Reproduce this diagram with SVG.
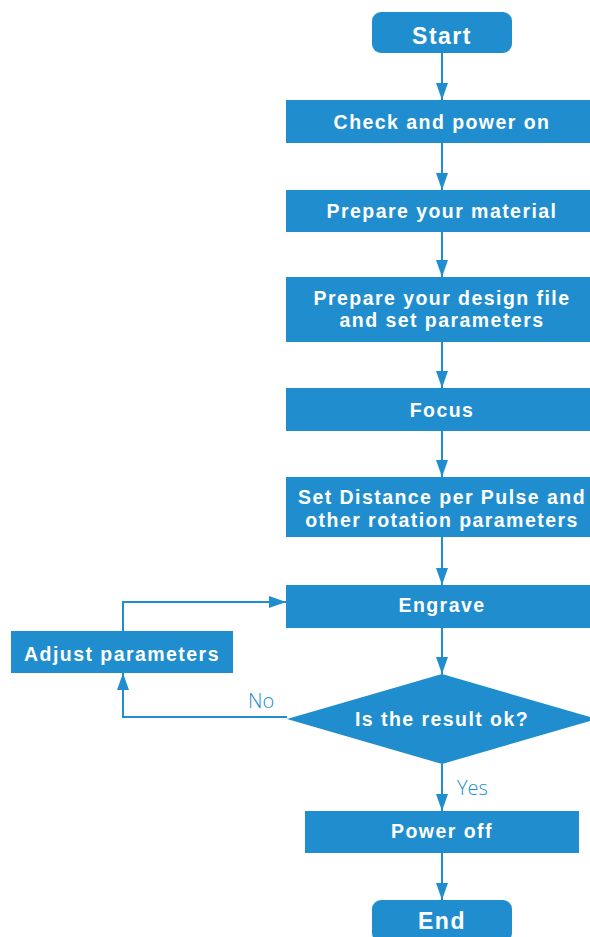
<svg xmlns="http://www.w3.org/2000/svg" width="590" height="937" viewBox="0 0 590 937">
<style>
.n{fill:#208ECE}
.t{fill:#fff;font-family:"Liberation Sans",Arial,sans-serif;font-weight:700;font-size:19.5px;letter-spacing:1.45px;text-anchor:middle}
.big{font-size:23px;letter-spacing:1.5px}
.c{stroke:#208ECE;stroke-width:2;fill:none}
.l{fill:#208ECE;font-family:"Open Sans","Liberation Sans",sans-serif;font-weight:300;font-size:20px}
</style>
<defs>
<marker id="a" markerWidth="17" markerHeight="12" refX="17" refY="6" orient="auto" markerUnits="userSpaceOnUse" viewBox="0 0 17 12">
<path d="M0,0 L17,6 L0,12 Z" fill="#208ECE"/>
</marker>
</defs>
<rect width="590" height="937" fill="#fff"/>
<g id="connectors">
<path class="c" d="M442,53 V100" marker-end="url(#a)"/>
<path class="c" d="M442,143 V190" marker-end="url(#a)"/>
<path class="c" d="M442,232 V277" marker-end="url(#a)"/>
<path class="c" d="M442,342 V388" marker-end="url(#a)"/>
<path class="c" d="M442,431 V477" marker-end="url(#a)"/>
<path class="c" d="M442,537 V585" marker-end="url(#a)"/>
<path class="c" d="M442,628 V674" marker-end="url(#a)"/>
<path class="c" d="M442,764 V811" marker-end="url(#a)"/>
<path class="c" d="M442,853 V900" marker-end="url(#a)"/>
<path class="c" d="M287,717 H123 V673" marker-end="url(#a)"/>
<path class="c" d="M123,631 V602 H286" marker-end="url(#a)"/>
<text class="l" x="248" y="708">No</text>
<text class="l" x="457" y="795">Yes</text>
</g>
<g id="start"><rect class="n" x="372" y="12" width="140" height="41" rx="9"/><text class="t big" x="442" y="44">Start</text></g>
<g id="check"><rect class="n" x="286" y="100" width="304" height="43"/><text class="t" x="442" y="129">Check and power on</text></g>
<g id="material"><rect class="n" x="286" y="190" width="304" height="42"/><text class="t" x="442" y="218">Prepare your material</text></g>
<g id="design"><rect class="n" x="286" y="277" width="304" height="65"/><text class="t" x="442" y="305">Prepare your design file<tspan x="442" dy="22">and set parameters</tspan></text></g>
<g id="focus"><rect class="n" x="286" y="388" width="304" height="43"/><text class="t" x="442" y="417">Focus</text></g>
<g id="distance"><rect class="n" x="286" y="477" width="304" height="60"/><text class="t" x="442" y="504">Set Distance per Pulse and<tspan x="442" dy="23">other rotation parameters</tspan></text></g>
<g id="engrave"><rect class="n" x="286" y="585" width="304" height="43"/><text class="t" x="442" y="612">Engrave</text></g>
<g id="decision"><polygon class="n" points="442,674 597,719 442,764 287,719"/><text class="t" x="442" y="726">Is the result ok?</text></g>
<g id="adjust"><rect class="n" x="11" y="631" width="222" height="42"/><text class="t" x="122" y="661">Adjust parameters</text></g>
<g id="poweroff"><rect class="n" x="305" y="811" width="274" height="42"/><text class="t" x="442" y="838">Power off</text></g>
<g id="end"><rect class="n" x="372" y="900" width="140" height="42" rx="9"/><text class="t big" x="442" y="929">End</text></g>
</svg>
